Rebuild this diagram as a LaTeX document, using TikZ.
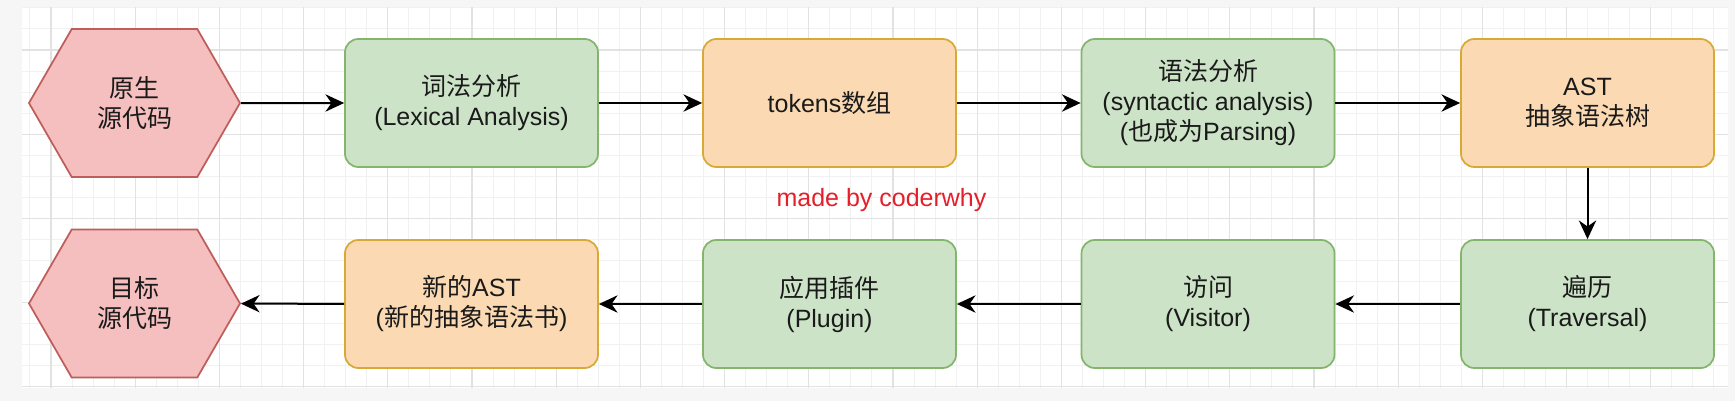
\documentclass[tikz,border=0pt]{standalone}
\usepackage{fontspec}
\setmainfont{Liberation Sans}
\newfontfamily\cjk{Noto Sans CJK SC}
\usetikzlibrary{shapes.symbols,arrows.meta}
\definecolor{gfill}{HTML}{CDE3C8}
\definecolor{gline}{HTML}{84B56C}
\definecolor{ofill}{HTML}{FAD9B3}
\definecolor{oline}{HTML}{D8AA35}
\definecolor{hfill}{HTML}{F4BFBE}
\definecolor{hline}{HTML}{BE5E5A}
\definecolor{txt}{HTML}{1A1A1A}
\definecolor{bgout}{HTML}{F6F6F6}
\definecolor{gridminor}{HTML}{F1F1F1}
\definecolor{gridmajor}{HTML}{E2E2E2}
\definecolor{credit}{HTML}{E3202A}
\tikzset{
  lbl/.style={font=\fontsize{18.75}{22.5}\selectfont, text=txt, align=center},
  box/.style={lbl, rectangle, rounded corners=10pt, line width=1.3pt,
    minimum width=189.75pt, minimum height=96pt, inner sep=0pt},
  gbox/.style={box, draw=gline, fill=gfill},
  obox/.style={box, draw=oline, fill=ofill},
  hexa/.style={lbl, signal, signal to=east and west, signal pointer angle=120,
    draw=hline, fill=hfill, line width=1.3pt,
    minimum width=158.25pt, minimum height=111pt, inner sep=0pt},
  arr/.style={line width=1.5pt, black, -{Stealth[length=14pt,width=13pt,inset=4.5pt]}},
  minor/.style={gridminor, line width=0.75pt},
  major/.style={gridmajor, line width=0.9pt},
}
\begin{document}
\begin{tikzpicture}[x=0.75pt,y=-0.75pt]
\useasboundingbox (0,0) rectangle (1735,401);
\fill[bgout] (0,0) rectangle (1735,401);
\fill[white] (22,7) rectangle (1728,388);
\begin{scope}
  \clip (22,7) rectangle (1728,388);
  \foreach \i in {-2,...,81} \draw[minor] ({51+21.05*\i},7) -- ({51+21.05*\i},388);
  \foreach \j in {-2,...,16} \draw[minor] (22,{50+21.05*\j}) -- (1728,{50+21.05*\j});
  \foreach \i in {0,...,20} \draw[major] ({51+84.2*\i},7) -- ({51+84.2*\i},388);
  \foreach \j in {0,...,4} \draw[major] (22,{50+84.2*\j}) -- (1728,{50+84.2*\j});
\end{scope}

% top row
\node[hexa] (src) at (134.5,103) {{\cjk 原生}\\{\cjk 源代码}};
\node[gbox] (lex) at (471.5,103) {{\cjk 词法分析}\\(Lexical Analysis)};
\node[obox] (tok) at (829.5,103) {tokens{\cjk 数组}};
\node[gbox] (syn) at (1208,103) {{\cjk 语法分析}\\(syntactic analysis)\\({\cjk 也成为}Parsing)};
\node[obox] (ast) at (1587.5,103) {AST\\{\cjk 抽象语法树}};

% bottom row
\node[hexa] (dst) at (134.5,303.5) {{\cjk 目标}\\{\cjk 源代码}};
\node[obox] (nast) at (471.5,304) {{\cjk 新的}AST\\({\cjk 新的抽象语法书})};
\node[gbox] (plug) at (829.5,304) {{\cjk 应用插件}\\(Plugin)};
\node[gbox] (visit) at (1208,304) {{\cjk 访问}\\(Visitor)};
\node[gbox] (trav) at (1587.5,304) {{\cjk 遍历}\\(Traversal)};

\node[font=\fontsize{18.75}{22.5}\selectfont, text=credit] (made) at (881.5,200) {made by coderwhy};

\draw[arr] (src) -- (lex);
\draw[arr] (lex) -- (tok);
\draw[arr] (tok) -- (syn);
\draw[arr] (syn) -- (ast);
\draw[arr] (ast) -- (trav);
\draw[arr] (trav) -- (visit);
\draw[arr] (visit) -- (plug);
\draw[arr] (plug) -- (nast);
\draw[arr] (nast) -- (dst);
\end{tikzpicture}
\end{document}
